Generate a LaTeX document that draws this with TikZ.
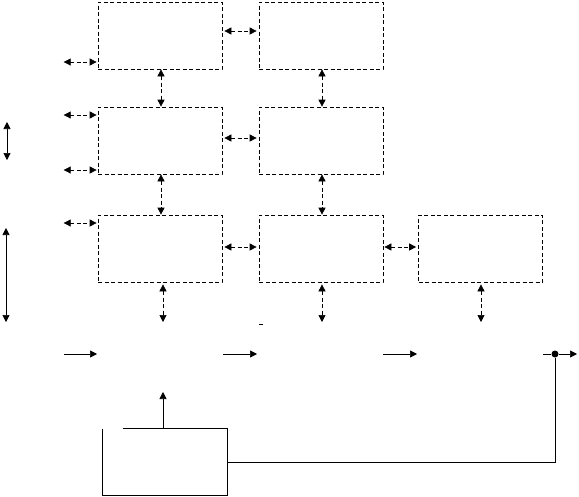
\documentclass[tikz,border=0pt]{standalone}
\usetikzlibrary{arrows.meta,calc}

\begin{document}
\begin{tikzpicture}[
    x=1pt, y=-1pt,
    block/.style={draw, dash pattern=on 4pt off 2.5pt, minimum width=124pt, minimum height=67pt, inner sep=0pt},
    dlink/.style={{Triangle[length=7pt,width=7pt]}-{Triangle[length=7pt,width=7pt]}, dash pattern=on 4pt off 2.5pt},
    slink/.style={{Triangle[length=7pt,width=7pt]}-{Triangle[length=7pt,width=7pt]}},
    feed/.style={-{Triangle[length=7pt,width=7pt]}},
    line width=0.7pt
]
\useasboundingbox (0,0) rectangle (579,496);

% Dashed blocks
\node[block] (b11) at (160,35.5) {};
\node[block] (b12) at (321,35.5) {};
\node[block] (b21) at (160,140.5) {};
\node[block] (b22) at (321,140.5) {};
\node[block] (b31) at (160,248.5) {};
\node[block] (b32) at (321,248.5) {};
\node[block] (b33) at (480.5,248.5) {};

% Controller block (top edge left open)
\node[minimum width=124pt, minimum height=66pt, inner sep=0pt] (ctrl) at (165,462) {};
\draw ([xshift=20pt]ctrl.north west) -- (ctrl.north east) -- (ctrl.south east)
      -- (ctrl.south west) -- (ctrl.north west);

% Links between blocks
\draw[dlink] ([xshift=2pt,yshift=4.5pt]b11.east) -- ([xshift=-2pt,yshift=4.5pt]b12.west);
\draw[dlink] ([xshift=2pt,yshift=2.5pt]b21.east) -- ([xshift=-2pt,yshift=2.5pt]b22.west);
\draw[dlink] ([xshift=2pt,yshift=1.5pt]b31.east) -- ([xshift=-2pt,yshift=1.5pt]b32.west);
\draw[dlink] ([xshift=1pt,yshift=1.5pt]b32.east) -- ([xshift=-2pt,yshift=1.5pt]b33.west);
\draw[dlink] ([xshift=1pt]b11.south) -- ([xshift=1pt]b21.north);
\draw[dlink] ([xshift=1pt]b12.south) -- ([xshift=1pt]b22.north);
\draw[dlink] ([xshift=1pt]b21.south) -- ([xshift=1pt]b31.north);
\draw[dlink] ([xshift=1pt]b22.south) -- ([xshift=1pt]b32.north);

% Links on the left side
\coordinate (l1) at ($(b11.west)+(-34,26.5)$);
\coordinate (l2) at ($(b21.west)+(-34,-25.5)$);
\coordinate (l3) at ($(b21.west)+(-34,29.5)$);
\coordinate (l4) at ($(b31.west)+(-34,-25.5)$);
\draw[dlink] (l1) -- ([xshift=-1pt]l1 -| b11.west);
\draw[dlink] (l2) -- ([xshift=-1pt]l2 -| b21.west);
\draw[dlink] (l3) -- ([xshift=-1pt]l3 -| b21.west);
\draw[dlink] (l4) -- ([xshift=-1pt]l4 -| b31.west);

% Links below the bottom row
\coordinate (o1) at (163,322);
\coordinate (o2) at (322,322);
\coordinate (o3) at (481,322);
\draw[dlink] ([yshift=-2pt]b31.south -| o1) -- (o1);
\draw[dlink] ([yshift=-2pt]b32.south -| o2) -- (o2);
\draw[dlink] ([yshift=-2pt]b33.south -| o3) -- (o3);
\draw (259,324) -- (263,324);

% Solid double arrows at the far left
\coordinate (s1) at (7,122);
\coordinate (s2) at (7,160);
\coordinate (s3) at (6,228);
\coordinate (s4) at (6,322);
\draw[slink] (s1) -- (s2);
\draw[slink] (s3) -- (s4);

% Signal path
\coordinate (in0) at (64,354);
\coordinate (in1) at (97,354);
\coordinate (m0) at (223,354);
\coordinate (m1) at (257,354);
\coordinate (m2) at (383,354);
\coordinate (m3) at (417,354);
\coordinate (y0) at (543,354);
\coordinate (y1) at (577,354);
\node[circle, fill, inner sep=0pt, minimum size=7pt] (tap) at (555,354) {};
\draw[feed] (in0) -- (in1);
\draw[feed] (m0) -- (m1);
\draw[feed] (m2) -- (m3);
\draw (y0) -- (tap);
\draw[feed] (tap) -- (y1);

% Feedback to the controller
\draw (tap) |- (ctrl.east);
\coordinate (u) at (163,392);
\draw[feed] (ctrl.north -| u) -- (u);
\end{tikzpicture}
\end{document}
